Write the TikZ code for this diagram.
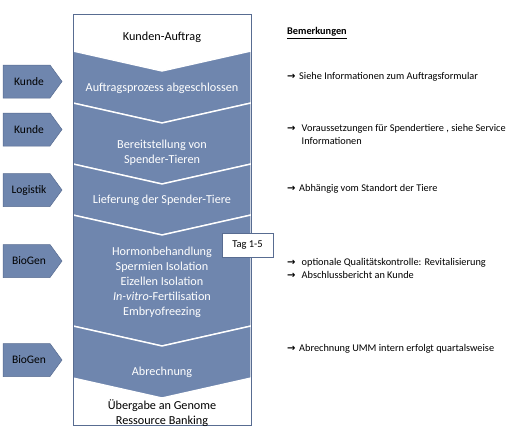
\documentclass[tikz,border=0pt]{standalone}
\usepackage{fontspec}
\setmainfont{Carlito}
\newfontfamily\arrfont{DejaVu Sans}
\definecolor{stepblue}{RGB}{111,134,174}
\definecolor{edgeblue}{RGB}{88,108,145}
\newcommand{\arrw}[1]{\makebox[#1][l]{\arrfont\bfseries\fontsize{10}{10}\selectfont →}}
\begin{document}
\begin{tikzpicture}[x=1pt,y=-1pt,
  maintext/.style={text=white,font=\fontsize{12.2}{15}\selectfont,align=center,inner sep=0pt},
  darktext/.style={text=black,font=\fontsize{12.2}{15}\selectfont,align=center,inner sep=0pt},
  sidetext/.style={text=black,font=\fontsize{11.5}{13}\selectfont,inner sep=0pt},
  remark/.style={anchor=west,text=black,font=\fontsize{10.3}{13}\selectfont,align=left,inner sep=0pt},
  segfill/.style={fill=stepblue,draw=white,line width=1.4pt,line join=miter},
  tagbox/.style={draw=edgeblue,fill=white,line width=0.6pt,minimum width=51pt,minimum height=24pt,inner sep=0pt,font=\fontsize{10.5}{12}\selectfont}]
\useasboundingbox (0,0) rectangle (513,437);
\fill[white] (0,0) rectangle (513,437);
% column
\def\L{73}\def\R{251}\def\C{162}\def\D{20}
\fill[white] (\L,14) rectangle (\R,425);
\foreach \a/\b in {51/103,103/164,164/215,215/326,326/378}{
  \path[segfill] (\L,\a) -- (\C,\a+\D) -- (\R,\a) -- (\R,\b) -- (\C,\b+\D) -- (\L,\b) -- cycle;
}
\draw[edgeblue,line width=0.6pt] (\L,14) rectangle (\R,425);
% step texts
\node[darktext] (t0) at (\C,37) {Kunden-Auftrag};
\node[maintext] (t1) at (\C,88) {Auftragsprozess abgeschlossen};
\node[maintext] (t2) at (\C,153) {Bereitstellung von\\Spender-Tieren};
\node[maintext] (t3) at (\C,200) {Lieferung der Spender-Tiere};
\node[maintext] (t4) at (\C,282) {Hormonbehandlung\\Spermien Isolation\\Eizellen Isolation\\\textit{In-vitro}-Fertilisation\\Embryofreezing};
\node[maintext] (t5) at (\C,372) {Abrechnung};
\node[darktext] (t6) at (\C,413.5) {Übergabe an Genome\\Ressource Banking};
% tag box
\node[tagbox] (tag) at (247.5,245) {Tag 1-5};
% side labels
\foreach \n/\yc/\lab in {s1/81.5/Kunde,s2/129.5/Kunde,s3/190/Logistik,s4/261/BioGen,s5/360/BioGen}{
  \draw[fill=stepblue,draw=edgeblue,line width=0.5pt] (3,\yc-16.5) -- (50,\yc-16.5) -- (62,\yc) -- (50,\yc+16.5) -- (3,\yc+16.5) -- cycle;
  \node[sidetext] (\n) at (29,\yc) {\lab};
}
% remarks
\node[remark] (rh) at (287,33) {\underline{\textbf{Bemerkungen}}};
\node[remark] (r1) at (287,77) {\arrw{12pt}Siehe Informationen zum Auftragsformular};
\node[remark] (r2) at (287,134.5) {\arrw{14.5pt}Voraussetzungen für Spendertiere , siehe Service\\\hspace*{14.5pt}Informationen};
\node[remark] (r3) at (287,189) {\arrw{12pt}Abhängig vom Standort der Tiere};
\node[remark] (r4) at (287,268.5) {\arrw{14.5pt}optionale Qualitätskontrolle: Revitalisierung\\\arrw{14.5pt}Abschlussbericht an Kunde};
\node[remark] (r5) at (287,349) {\arrw{12pt}Abrechnung UMM intern erfolgt quartalsweise};
\end{tikzpicture}
\end{document}
